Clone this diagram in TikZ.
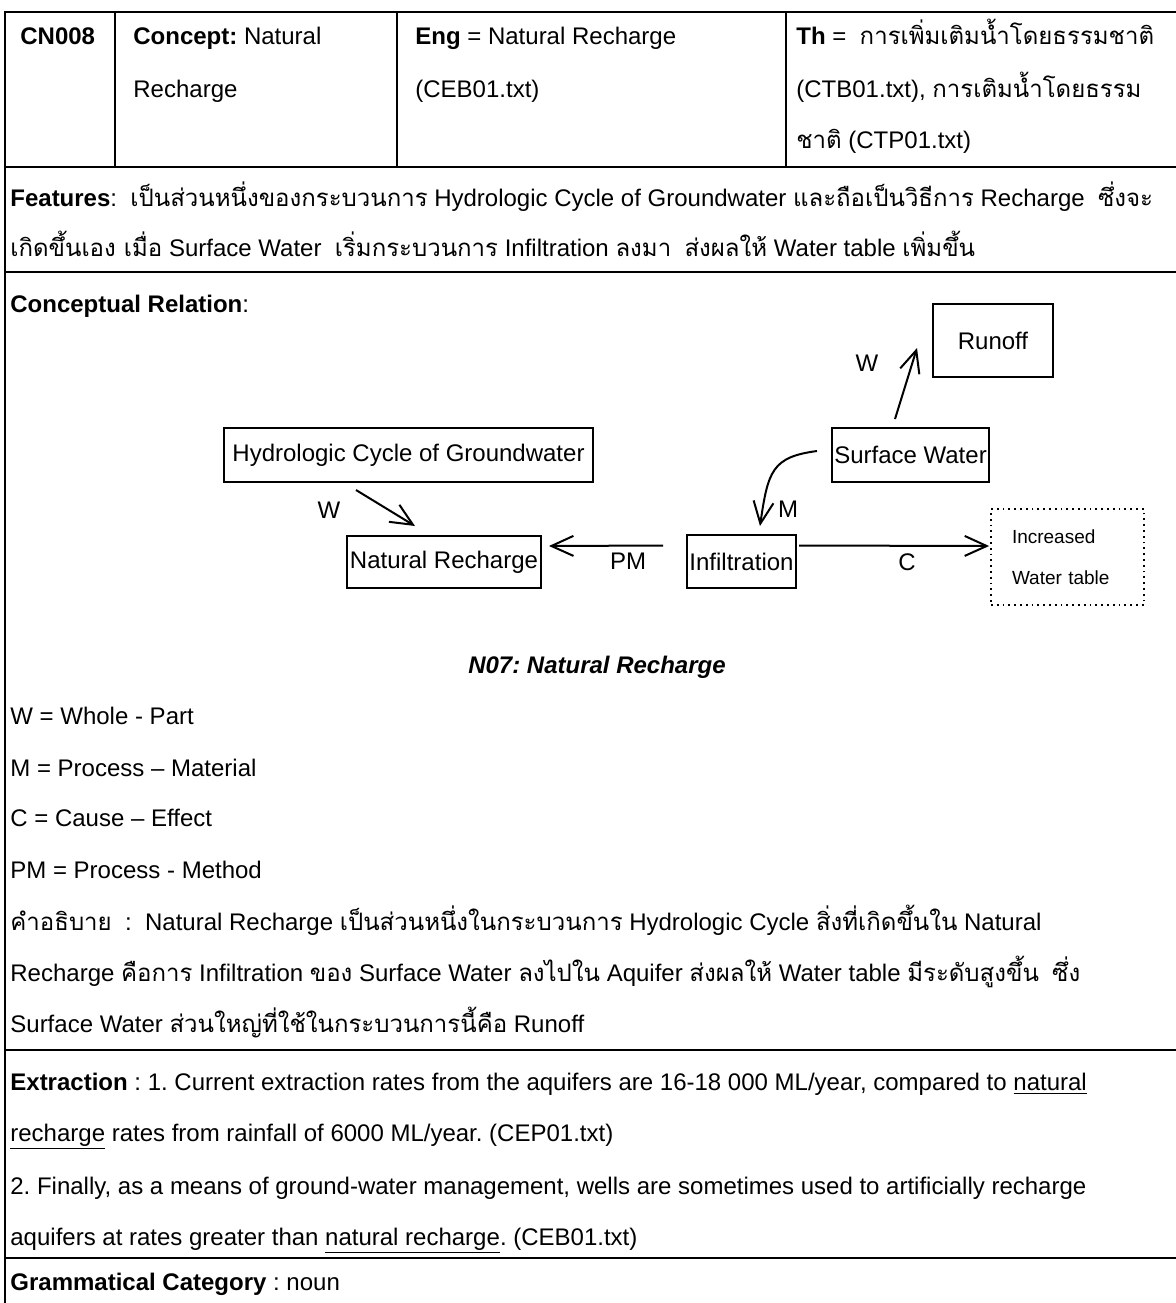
\documentclass[tikz,border=0pt]{standalone}
\usepackage{fontspec}
\setmainfont{Liberation Sans}
\newfontfamily\thai[Script=Thai]{Loma}
\usetikzlibrary{arrows.meta,calc}
\newcommand{\T}[1]{{\thai #1}}
\frenchspacing
\begin{document}
\begin{tikzpicture}[x=0.5pt,y=-0.5pt,
  txt/.style={anchor=base west,inner sep=0pt,font=\fontsize{12}{14}\selectfont},
  box/.style={draw,line width=1pt,inner sep=0pt,font=\fontsize{12}{14}\selectfont},
  dotbox/.style={draw,dotted,line width=0.9pt,inner sep=0pt,align=left,
    font=\fontsize{9.5}{20.5}\selectfont},
  lbl/.style={inner sep=0pt,font=\fontsize{12}{14}\selectfont},
  arr/.style={line width=1pt,-{Straight Barb[length=11pt,width=10pt,line width=1pt]}},
  rule/.style={line width=1pt}]
\useasboundingbox (0,0) rectangle (1176,1303);
\fill[white] (0,0) rectangle (1176,1303);

% table frame and rules
\draw[rule] (1176,12) -- (5,12) -- (5,1303);
\draw[rule] (5,167) -- (1176,167);
\draw[rule] (5,272) -- (1176,272);
\draw[rule] (5,1050) -- (1176,1050);
\draw[rule] (5,1258) -- (1176,1258);
\draw[line width=0.8pt] (115,12) -- (115,167);
\draw[line width=0.8pt] (397,12) -- (397,167);
\draw[line width=0.8pt] (786,12) -- (786,167);

% header row
\node[txt] (id) at (20,44) {\textbf{CN008}};
\node[txt] (c1) at (133,44) {\textbf{Concept:} Natural};
\node[txt] (c2) at (133,97) {Recharge};
\node[txt] (e1) at (415,44) {\textbf{Eng} = Natural Recharge};
\node[txt] (e2) at (415,97) {(CEB01.txt)};
\node[txt] (h1) at (796,44) {\textbf{Th} = \ \T{การเพิ่มเติมน้ำโดยธรรมชาติ}};
\node[txt] (h2) at (796,97) {(CTB01.txt), \T{การเติมน้ำโดยธรรม}};
\node[txt] (h3) at (796,148) {\T{ชาติ} (CTP01.txt)};

% features
\node[txt] (f1) at (10,206) {\textbf{Features}: \ \T{เป็นส่วนหนึ่งของกระบวนการ} Hydrologic Cycle of Groundwater \T{และถือเป็นวิธีการ} Recharge \ \T{ซึ่งจะ}};
\node[txt] (f2) at (10,256) {\T{เกิดขึ้นเอง เมื่อ} Surface Water \ \T{เริ่มกระบวนการ} Infiltration \T{ลงมา} \ \T{ส่งผลให้} Water table \T{เพิ่มขึ้น}};

\node[txt] (cr) at (10,312) {\textbf{Conceptual Relation}:};

% concept nodes
\node[box,minimum width=184.5pt,minimum height=27pt] (hydro) at (408.5,455) {Hydrologic Cycle of Groundwater};
\node[box,minimum width=97pt,minimum height=26pt] (nr) at (444,562) {Natural Recharge};
\node[box,minimum width=54.5pt,minimum height=26.5pt] (inf) at (741.5,561.5) {Infiltration};
\node[box,minimum width=78.5pt,minimum height=27pt] (sw) at (910.5,455) {Surface Water};
\node[box,minimum width=60pt,minimum height=36.5pt] (ro) at (993,340.5) {Runoff};
\node[dotbox,text width=55.5pt,inner xsep=10.5pt,minimum height=48pt] (iwt) at (1067.5,557) {Increased\\Water table};

% relations
\draw[arr] ($(hydro.south)+(-52.5,7)$) -- ($(nr.north)+(-29,-9)$);
\draw[arr] ($(sw.north)+(-15.5,-8)$) -- ($(ro.west)+(-15,7.5)$);
\draw[arr] ($(inf.west)+(-23,-16)$) -- ($(nr.east)+(7,-16)$);
\draw[arr] ($(inf.east)+(2,-16)$) -- ($(iwt.west)+(-1,-11)$);
\draw[arr] ($(sw.west)+(-14,-4)$) .. controls +(-45,6) and +(8,-55) .. ($(inf.north)+(18.5,-8)$);

% relation labels
\node[lbl] (lw1) at (329,510) {W};
\node[lbl] (lw2) at (867,363) {W};
\node[lbl] (lpm) at (628,561) {PM};
\node[lbl] (lc) at (907,562) {C};
\node[lbl] (lm) at (788,509) {M};

% caption
\node[lbl,anchor=base] (cap) at (597,673) {\textbf{\textit{N07: Natural Recharge}}};

% legend
\node[txt] (g1) at (10,724) {W = Whole - Part};
\node[txt] (g2) at (10,776) {M = Process – Material};
\node[txt] (g3) at (10,826) {C = Cause – Effect};
\node[txt] (g4) at (10,878) {PM = Process - Method};

% explanation
\node[txt] (x1) at (10,930) {\T{คำอธิบาย} \ : \ Natural Recharge \T{เป็นส่วนหนึ่งในกระบวนการ} Hydrologic Cycle \T{สิ่งที่เกิดขึ้นใน} Natural};
\node[txt] (x2) at (10,981) {Recharge \T{คือการ} Infiltration \T{ของ} Surface Water \T{ลงไปใน} Aquifer \T{ส่งผลให้} Water table \T{มีระดับสูงขึ้น} \ \T{ซึ่ง}};
\node[txt] (x3) at (10,1032) {Surface Water \T{ส่วนใหญ่ที่ใช้ในกระบวนการนี้คือ} Runoff};

% extraction
\node[txt] (r1) at (10,1090) {\textbf{Extraction} : 1. Current extraction rates from the aquifers are 16-18 000 ML/year, compared to \underline{natural}};
\node[txt] (r2) at (10,1141) {\underline{recharge} rates from rainfall of 6000 ML/year. (CEP01.txt)};
\node[txt] (r3) at (10,1194) {2. Finally, as a means of ground-water management, wells are sometimes used to artificially recharge};
\node[txt] (r4) at (10,1245) {aquifers at rates greater than \underline{natural recharge}. (CEB01.txt)};

\node[txt] (gc) at (10,1290) {\textbf{Grammatical Category} : noun};
\end{tikzpicture}
\end{document}
